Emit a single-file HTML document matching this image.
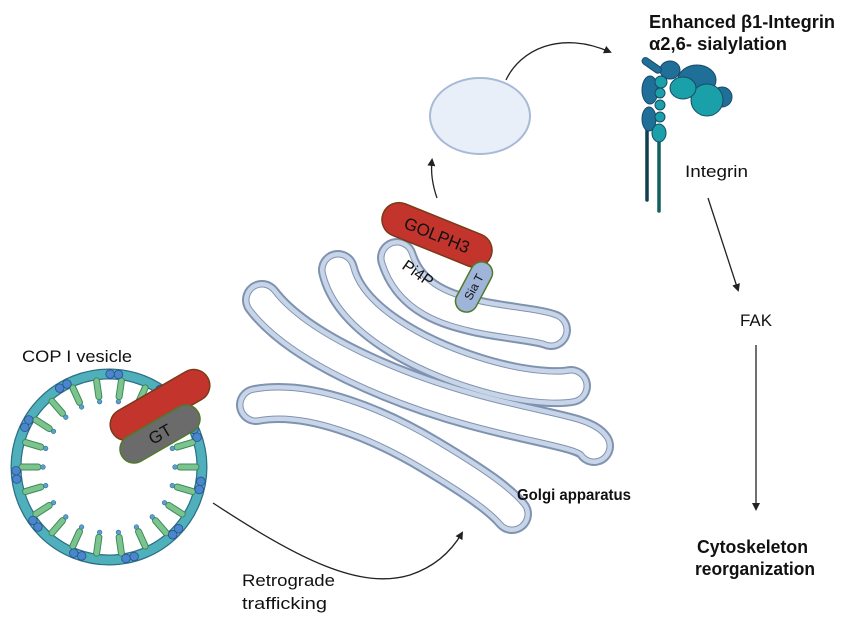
<!DOCTYPE html>
<html><head><meta charset="utf-8"><style>
html,body{margin:0;padding:0;background:#fff;}
svg{display:block;font-family:"Liberation Sans",Arial,sans-serif;}
</style></head><body>
<svg id="s" width="850" height="621" viewBox="0 0 850 621" xmlns="http://www.w3.org/2000/svg">
<defs>
<marker id="ah" markerWidth="8" markerHeight="8" refX="6" refY="4" orient="auto" markerUnits="userSpaceOnUse"><path d="M0,0 L8,4 L0,8 z" fill="#222"/></marker>
</defs>
<!-- Golgi cisternae -->
<g fill="none" stroke-linecap="round" stroke-linejoin="round">
<g stroke="#7f93b1" stroke-width="40">
<path d="M397,258 C410,300 450,310 475,316 S540,325 551,330"/>
<path d="M338,270 C350,320 420,355 473,372 S560,388 571,386"/>
<path d="M262,300 C300,350 400,390 473,410 S585,432 594,446"/>
<path d="M256,405 C310,395 380,425 430,455 S500,500 512,514"/>
</g>
<g stroke="#c8d5e8" stroke-width="36">
<path d="M397,258 C410,300 450,310 475,316 S540,325 551,330"/>
<path d="M338,270 C350,320 420,355 473,372 S560,388 571,386"/>
<path d="M262,300 C300,350 400,390 473,410 S585,432 594,446"/>
<path d="M256,405 C310,395 380,425 430,455 S500,500 512,514"/>
</g>
<g stroke="#7f93b1" stroke-width="27">
<path d="M397,258 C410,300 450,310 475,316 S540,325 551,330"/>
<path d="M338,270 C350,320 420,355 473,372 S560,388 571,386"/>
<path d="M262,300 C300,350 400,390 473,410 S585,432 594,446"/>
<path d="M256,405 C310,395 380,425 430,455 S500,500 512,514"/>
</g>
<g stroke="#fff" stroke-width="25">
<path d="M397,258 C410,300 450,310 475,316 S540,325 551,330"/>
<path d="M338,270 C350,320 420,355 473,372 S560,388 571,386"/>
<path d="M262,300 C300,350 400,390 473,410 S585,432 594,446"/>
<path d="M256,405 C310,395 380,425 430,455 S500,500 512,514"/>
</g>
</g>
<!-- GOLPH3 -->
<g transform="translate(437,235) rotate(22)">
<rect x="-58" y="-17" width="116" height="34" rx="17" fill="#c2342c" stroke="#7a3a1a" stroke-width="1.5"/>
<text x="0" y="6" font-size="17" text-anchor="middle" fill="#111">GOLPH3</text>
</g>
<g transform="translate(474,287) rotate(-62)">
<rect x="-27" y="-11" width="54" height="22" rx="11" fill="#9fb4d9" stroke="#4f7a2a" stroke-width="1.5"/>
<text x="0" y="4" font-size="12" text-anchor="middle" fill="#111">Sia T</text>
</g>
<text x="0" y="0" font-size="16" transform="translate(401,268) rotate(35)" fill="#111">Pi4P</text>
<text x="517" y="500" font-size="16" font-weight="bold" fill="#111" textLength="114" lengthAdjust="spacingAndGlyphs">Golgi apparatus</text>
<!-- vesicle -->
<ellipse cx="480" cy="116" rx="50" ry="38" fill="#e9eff9" stroke="#a8bad6" stroke-width="2"/>
<path d="M437,198 Q430,178 432,160" fill="none" stroke="#222" stroke-width="1.3" marker-end="url(#ah)"/>
<path d="M506,80 C520,50 560,30 610,52" fill="none" stroke="#222" stroke-width="1.3" marker-end="url(#ah)"/>
<!-- COP vesicle -->
<g id="cop"></g>
<g transform="translate(160,405) rotate(-30)">
<rect x="-55" y="-16" width="110" height="32" rx="16" fill="#c2342c" stroke="#7a3a1a" stroke-width="1.5"/>
</g>
<g transform="translate(160,434) rotate(-30)">
<rect x="-44" y="-14" width="88" height="28" rx="14" fill="#6b6b6b" stroke="#4f7a2a" stroke-width="1.5"/>
<text x="0" y="6" font-size="17" text-anchor="middle" fill="#111">GT</text>
</g>
<text x="22" y="362" font-size="17" fill="#111" textLength="110" lengthAdjust="spacingAndGlyphs">COP I vesicle</text>
<path d="M213,503 C300,560 360,590 410,575 C440,565 455,545 462,533" fill="none" stroke="#222" stroke-width="1.3" marker-end="url(#ah)"/>
<text x="242" y="586" font-size="17" fill="#111" textLength="93" lengthAdjust="spacingAndGlyphs">Retrograde</text>
<text x="242" y="609" font-size="17" fill="#111" textLength="85" lengthAdjust="spacingAndGlyphs">trafficking</text>
<!-- Integrin -->
<line x1="647" y1="110" x2="647" y2="200" stroke="#113f4f" stroke-width="3.5" stroke-linecap="round"/>
<line x1="659" y1="130" x2="659" y2="211" stroke="#135e63" stroke-width="3.5" stroke-linecap="round"/>
<g stroke="#184a66" stroke-width="1">
<ellipse cx="670" cy="70" rx="10" ry="9" fill="#1f6f99"/>
<ellipse cx="697" cy="80" rx="19" ry="15" fill="#1f6f99"/>
<ellipse cx="722" cy="97" rx="10" ry="10" fill="#1f6f99"/>
<ellipse cx="650" cy="90" rx="8" ry="14" fill="#1f6f99"/>
<ellipse cx="649" cy="119" rx="7" ry="12" fill="#1f6f99"/>
<rect x="641" y="62" width="22" height="7" rx="3.5" transform="rotate(35 652 65)" fill="#1f6f99"/>
<circle cx="707" cy="100" r="16" fill="#1aa0a8"/>
<ellipse cx="683" cy="88" rx="13" ry="11" fill="#1aa0a8"/>
<ellipse cx="661" cy="82" rx="6" ry="6" fill="#1aa0a8"/>
<circle cx="660" cy="93" r="5" fill="#1aa0a8"/>
<circle cx="660" cy="105" r="5" fill="#1aa0a8"/>
<circle cx="660" cy="117" r="5" fill="#1aa0a8"/>
<ellipse cx="659" cy="133" rx="7" ry="9" fill="#1aa0a8"/>
</g>
<text x="649" y="28" font-size="18" font-weight="bold" fill="#111" textLength="186" lengthAdjust="spacingAndGlyphs">Enhanced β1-Integrin</text>
<text x="649" y="50" font-size="18" font-weight="bold" fill="#111" textLength="138" lengthAdjust="spacingAndGlyphs">α2,6- sialylation</text>
<text x="685" y="177" font-size="17" fill="#111" textLength="63" lengthAdjust="spacingAndGlyphs">Integrin</text>
<line x1="708" y1="198" x2="738" y2="290" stroke="#222" stroke-width="1.3" marker-end="url(#ah)"/>
<text x="740" y="326" font-size="17" fill="#111" textLength="32" lengthAdjust="spacingAndGlyphs">FAK</text>
<line x1="756" y1="345" x2="756" y2="509" stroke="#222" stroke-width="1.3" marker-end="url(#ah)"/>
<text x="697" y="553" font-size="18" font-weight="bold" fill="#111" textLength="111" lengthAdjust="spacingAndGlyphs">Cytoskeleton</text>
<text x="695" y="575" font-size="18" font-weight="bold" fill="#111" textLength="120" lengthAdjust="spacingAndGlyphs">reorganization</text>
</svg>
<script>
(function(){
var g=document.getElementById('cop'),cx=109,cy=467,r=93,h='';
h+='<circle cx="'+cx+'" cy="'+cy+'" r="'+r+'" fill="none" stroke="#2d6f86" stroke-width="11"/>';
h+='<circle cx="'+cx+'" cy="'+cy+'" r="'+r+'" fill="none" stroke="#4fb0bb" stroke-width="8.5"/>';
for(var i=0;i<22;i++){var a=i/22*2*Math.PI;var x1=cx+Math.cos(a)*(r-6),y1=cy+Math.sin(a)*(r-6),x2=cx+Math.cos(a)*(r-22),y2=cy+Math.sin(a)*(r-22),x3=cx+Math.cos(a)*(r-27),y3=cy+Math.sin(a)*(r-27);
h+='<line x1="'+x1+'" y1="'+y1+'" x2="'+x2+'" y2="'+y2+'" stroke="#3e8a5a" stroke-width="7" stroke-linecap="round"/>';
h+='<line x1="'+x1+'" y1="'+y1+'" x2="'+x2+'" y2="'+y2+'" stroke="#7cc48e" stroke-width="5" stroke-linecap="round"/>';
h+='<circle cx="'+x3+'" cy="'+y3+'" r="2.3" fill="#5b9fd0" stroke="#2d6f86" stroke-width="0.6"/>';}
for(var j=0;j<11;j++){var b=j/11*2*Math.PI+0.2;for(var k=-1;k<=1;k+=2){var bb=b+k*0.045;
h+='<circle cx="'+(cx+Math.cos(bb)*r)+'" cy="'+(cy+Math.sin(bb)*r)+'" r="4.3" fill="#4a86cc" stroke="#2a4f8a" stroke-width="0.8"/>';}}
g.innerHTML=h;})();
</script>
</body></html>
